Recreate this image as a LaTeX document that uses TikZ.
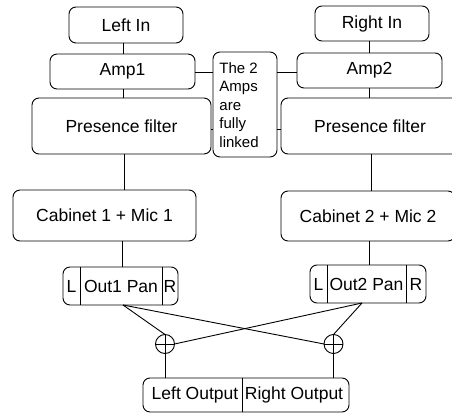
\documentclass[tikz,border=0pt]{standalone}
\usepackage{fontspec}
\setmainfont{Liberation Sans}
\begin{document}
\begin{tikzpicture}[x=1pt,y=-1pt,line width=0.9pt,
  box/.style={draw,rounded corners=7pt,inner sep=0pt,outer sep=0pt,font=\fontsize{17.5}{20}\selectfont},
  txt/.style={inner sep=0pt,outer sep=0pt,font=\fontsize{17.5}{20}\selectfont},
  notetxt/.style={anchor=north west,align=left,inner sep=0pt,font=\fontsize{15}{18.5}\selectfont},
  sum/.style={draw,circle,minimum size=19pt,inner sep=0pt,outer sep=0pt,
    path picture={\draw (path picture bounding box.north) -- (path picture bounding box.south)
      (path picture bounding box.west) -- (path picture bounding box.east);}}]
\useasboundingbox (0,0) rectangle (452,414);
% boxes
\node[box,minimum width=114pt,minimum height=36pt] (LeftIn) at (126,25) {Left In};
\node[box,minimum width=114pt,minimum height=35pt] (RightIn) at (372,23.5) {Right In};
\node[box,minimum width=145pt,minimum height=35pt] (Amp1) at (122.5,71.5) {Amp1};
\node[box,minimum width=145pt,minimum height=35pt] (Amp2) at (369.5,70.5) {Amp2};
\node[box,minimum width=64pt,minimum height=105pt] (Note) at (245,104.5) {};
\node[notetxt] (NoteText) at (219,62) {The 2\\Amps\\are\\fully\\linked};
\node[box,minimum width=179pt,minimum height=56pt] (PF1) at (121.5,126) {Presence filter};
\node[box,minimum width=178pt,minimum height=56pt] (PF2) at (370,126) {Presence filter};
\node[box,minimum width=183pt,minimum height=51pt] (Cab1) at (104.5,215.5) {Cabinet 1 + Mic 1};
\node[box,minimum width=174pt,minimum height=50pt] (Cab2) at (368,216) {Cabinet 2 + Mic 2};
% pan boxes
\node[box,minimum width=115pt,minimum height=38pt] (Pan1) at (120.5,286) {};
\draw (80,0 |- Pan1.north) -- (80,0 |- Pan1.south) (162,0 |- Pan1.north) -- (162,0 |- Pan1.south);
\node[txt] (Pan1L) at (71.5,286) {L};
\node[txt] (Pan1M) at (121,286) {Out1 Pan};
\node[txt] (Pan1R) at (170,286) {R};
\node[box,minimum width=116pt,minimum height=38pt] (Pan2) at (368,284) {};
\draw (327,0 |- Pan2.north) -- (327,0 |- Pan2.south) (406,0 |- Pan2.north) -- (406,0 |- Pan2.south);
\node[txt] (Pan2L) at (318.5,284) {L};
\node[txt] (Pan2M) at (366.5,284) {Out2 Pan};
\node[txt] (Pan2R) at (416,284) {R};
% summing nodes
\node[sum] (S1) at (165,344) {};
\node[sum] (S2) at (333.5,344) {};
% output box
\node[box,minimum width=206pt,minimum height=34pt] (Out) at (246,395) {};
\draw (242,0 |- Out.north) -- (242,0 |- Out.south);
\node[txt] (OutL) at (195,395) {Left Output};
\node[txt] (OutR) at (294,395) {Right Output};
% connectors left chain
\draw (123,0 |- LeftIn.south) -- (123,0 |- Amp1.north);
\draw (123.5,0 |- Amp1.south) -- (123.5,0 |- PF1.north);
\draw (124,0 |- PF1.south) -- (124,0 |- Cab1.north);
\draw (122,0 |- Cab1.south) -- (122,0 |- Pan1.north);
% right chain
\draw (369,0 |- RightIn.south) -- (369,0 |- Amp2.north);
\draw (369,0 |- Amp2.south) -- (369,0 |- PF2.north);
\draw (371,0 |- PF2.south) -- (371,0 |- Cab2.north);
\draw (369,0 |- Cab2.south) -- (369,0 |- Pan2.north);
% links to note
\draw (Amp1.east |- 0,72) -- (Note.west |- 0,72);
\draw (Note.east |- 0,72) -- (Amp2.west |- 0,72);
\draw (PF1.east |- 0,129) -- (Note.west |- 0,129);
\draw (Note.east |- 0,129) -- (PF2.west |- 0,129);
% cross connections
\coordinate (P1) at (123,0 |- Pan1.south);
\coordinate (P2) at (362,0 |- Pan2.south);
\draw (P1) -- (S1.north);
\draw (P1) -- (S2.west);
\draw (P2) -- (S2.north);
\draw (P2) -- (S1.east);
\draw (S1.south) -- (S1.south |- Out.north);
\draw (S2.south) -- (S2.south |- Out.north);
\end{tikzpicture}
\end{document}
